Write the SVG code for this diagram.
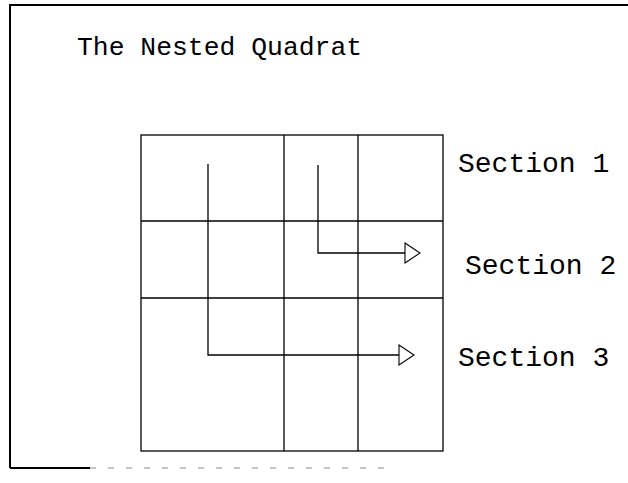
<svg xmlns="http://www.w3.org/2000/svg" width="628" height="483" viewBox="0 0 628 483">
<style>
.ln{stroke:#000;stroke-width:1.3;fill:none}
.fr{stroke:#000;stroke-width:2;fill:none}
.t{font-family:"Liberation Mono","Courier New",monospace;fill:#000}
</style>
<defs>
<marker id="ah" markerWidth="18" markerHeight="22" refX="1" refY="11" orient="auto" markerUnits="userSpaceOnUse">
<path d="M1,1 L16,11 L1,21 Z" fill="#fff" stroke="#000" stroke-width="1.1"/>
</marker>
</defs>
<rect width="628" height="483" fill="#fff"/>
<g id="frame">
<path class="fr" d="M10,468 L10,5 L628,5"/>
<path class="fr" d="M10,468 L90,468"/>
<path d="M90,468 L390,468" stroke="#000" stroke-width="1" stroke-dasharray="6,12" opacity="0.45"/>
</g>
<g id="title"><text class="t" x="77" y="55" font-size="26.4">The Nested Quadrat</text></g>
<g id="grid">
<rect class="ln" x="141" y="135" width="302" height="316"/>
<line class="ln" x1="284" y1="135" x2="284" y2="451"/>
<line class="ln" x1="358" y1="135" x2="358" y2="451"/>
<line class="ln" x1="141" y1="221" x2="443" y2="221"/>
<line class="ln" x1="141" y1="298" x2="443" y2="298"/>
</g>
<g id="connectors">
<path class="ln" d="M208,164 L208,355 L399,355" marker-end="url(#ah)"/>
<path class="ln" d="M318,165 L318,253 L405,253" marker-end="url(#ah)"/>
</g>
<g id="section1"><text class="t" x="458" y="172" font-size="28">Section 1</text></g>
<g id="section2"><text class="t" x="465" y="274" font-size="28">Section 2</text></g>
<g id="section3"><text class="t" x="458" y="366" font-size="28">Section 3</text></g>
</svg>
